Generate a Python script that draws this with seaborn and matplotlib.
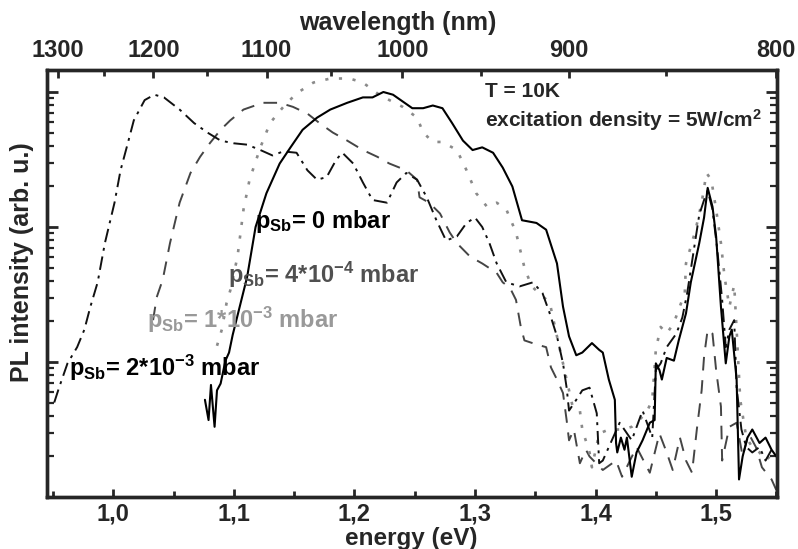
import numpy as np
import pandas as pd
import matplotlib
matplotlib.use("Agg")
import matplotlib.pyplot as plt
import seaborn as sns
from matplotlib.ticker import FixedLocator, NullFormatter, LogLocator

# ---------------- data (energy in eV, log10 of PL intensity in arb. u.) ----------------
e_0 = [1.076, 1.079, 1.081, 1.084, 1.086, 1.089, 1.093, 1.096, 1.099, 1.111, 1.118, 1.127,
       1.138, 1.147, 1.157, 1.169, 1.180, 1.194, 1.207, 1.215, 1.224, 1.232, 1.240, 1.248,
       1.257, 1.265, 1.273, 1.281, 1.290, 1.298, 1.306, 1.315, 1.323, 1.331, 1.339, 1.351,
       1.359, 1.368, 1.373, 1.378, 1.384, 1.389, 1.397, 1.403, 1.406, 1.411, 1.416, 1.417,
       1.418, 1.421, 1.424, 1.426, 1.430, 1.434, 1.439, 1.445, 1.449, 1.450, 1.453, 1.455,
       1.459, 1.465, 1.469, 1.475, 1.479, 1.486, 1.490, 1.493, 1.497, 1.500, 1.504, 1.508,
       1.511, 1.513, 1.517, 1.519, 1.522, 1.526, 1.530, 1.536, 1.541, 1.546, 1.550]
log_0 = [0.72, 0.57, 0.83, 0.52, 0.79, 0.84, 1.01, 1.07, 1.20, 1.63, 2.00, 2.25,
         2.47, 2.59, 2.72, 2.81, 2.87, 2.92, 2.96, 2.96, 3.00, 2.98, 2.93, 2.88,
         2.88, 2.90, 2.88, 2.77, 2.64, 2.57, 2.59, 2.55, 2.44, 2.30, 2.05, 2.03,
         1.98, 1.73, 1.41, 1.19, 1.05, 1.07, 1.14, 1.09, 1.07, 0.87, 0.72, 0.40,
         0.33, 0.44, 0.35, 0.44, 0.15, 0.33, 0.42, 0.55, 0.57, 0.99, 0.94, 0.87,
         1.03, 1.01, 1.16, 1.36, 1.59, 1.88, 2.07, 2.29, 2.15, 1.93, 1.41, 0.99,
         1.19, 1.24, 0.87, 0.13, 0.30, 0.44, 0.50, 0.40, 0.44, 0.35, 0.30]

e_4e4 = [1.033, 1.036, 1.041, 1.047, 1.055, 1.064, 1.072, 1.080, 1.089, 1.097, 1.108, 1.124,
         1.138, 1.149, 1.161, 1.171, 1.182, 1.194, 1.207, 1.219, 1.229, 1.243, 1.252, 1.254,
         1.262, 1.271, 1.279, 1.285, 1.296, 1.306, 1.318, 1.323, 1.329, 1.334, 1.338, 1.341,
         1.351, 1.359, 1.363, 1.368, 1.373, 1.376, 1.378, 1.382, 1.387, 1.392, 1.395, 1.406,
         1.417, 1.422, 1.434, 1.445, 1.453, 1.459, 1.464, 1.470, 1.475, 1.480, 1.484, 1.488,
         1.490, 1.493, 1.497, 1.500, 1.504, 1.505, 1.511, 1.517, 1.522, 1.527, 1.533, 1.538,
         1.546, 1.550]
log_4e4 = [1.31, 1.48, 1.61, 1.88, 2.18, 2.40, 2.52, 2.62, 2.72, 2.79, 2.87, 2.92,
           2.92, 2.89, 2.84, 2.77, 2.70, 2.64, 2.57, 2.52, 2.47, 2.42, 2.35, 2.22,
           2.18, 2.10, 1.96, 1.88, 1.78, 1.73, 1.66, 1.59, 1.55, 1.46, 1.26, 1.16,
           1.13, 1.11, 0.96, 0.87, 0.77, 0.57, 0.42, 0.50, 0.25, 0.35, 0.30, 0.20,
           0.27, 0.15, 0.37, 0.18, 0.47, 0.33, 0.20, 0.44, 0.27, 0.18, 0.50, 0.79,
           1.04, 1.24, 1.21, 0.94, 0.67, 0.27, 0.52, 0.55, 0.30, 0.47, 0.37, 0.22,
           0.13, 0.05]

e_1e3 = [1.086, 1.090, 1.094, 1.097, 1.103, 1.108, 1.113, 1.122, 1.130, 1.141, 1.152, 1.166,
         1.180, 1.196, 1.207, 1.219, 1.229, 1.240, 1.252, 1.257, 1.265, 1.273, 1.285, 1.293,
         1.301, 1.310, 1.318, 1.326, 1.334, 1.341, 1.347, 1.362, 1.368, 1.376, 1.381, 1.387,
         1.389, 1.395, 1.397, 1.403, 1.411, 1.422, 1.430, 1.442, 1.447, 1.450, 1.454, 1.459,
         1.465, 1.469, 1.474, 1.475, 1.483, 1.488, 1.492, 1.496, 1.500, 1.504, 1.507, 1.511,
         1.515, 1.517, 1.520, 1.525, 1.530, 1.536, 1.541, 1.548]
log_1e3 = [1.12, 1.24, 1.44, 1.53, 1.78, 2.13, 2.35, 2.59, 2.77, 2.89, 2.99, 3.07,
           3.10, 3.10, 3.07, 2.99, 2.94, 2.89, 2.81, 2.70, 2.63, 2.63, 2.57, 2.42,
           2.25, 2.15, 2.18, 2.13, 1.96, 1.70, 1.56, 1.44, 1.19, 0.87, 0.67, 0.64,
           0.50, 0.33, 0.22, 0.47, 0.50, 0.50, 0.52, 0.62, 0.72, 1.09, 1.26, 1.21,
           1.29, 1.39, 1.51, 1.73, 1.98, 2.18, 2.40, 2.35, 2.13, 1.88, 1.63, 1.41,
           1.57, 1.24, 0.72, 0.44, 0.37, 0.33, 0.27, 0.33]

e_2e3 = [0.951, 0.955, 0.962, 0.970, 0.976, 0.981, 0.987, 0.993, 1.001, 1.006, 1.012, 1.017,
         1.026, 1.034, 1.042, 1.055, 1.067, 1.078, 1.089, 1.100, 1.111, 1.122, 1.132, 1.141,
         1.152, 1.161, 1.169, 1.177, 1.185, 1.190, 1.199, 1.207, 1.215, 1.227, 1.235, 1.243,
         1.252, 1.260, 1.268, 1.276, 1.285, 1.293, 1.300, 1.306, 1.312, 1.318, 1.326, 1.337,
         1.348, 1.356, 1.362, 1.368, 1.373, 1.376, 1.378, 1.384, 1.389, 1.395, 1.401, 1.403,
         1.406, 1.420, 1.430, 1.439, 1.447, 1.450, 1.454, 1.459, 1.467, 1.472, 1.476, 1.486,
         1.490, 1.493, 1.497, 1.501, 1.505, 1.508, 1.511, 1.515, 1.517, 1.521, 1.525, 1.530,
         1.536, 1.541, 1.546]
log_2e3 = [0.70, 0.81, 0.99, 1.11, 1.24, 1.41, 1.59, 1.88, 2.18, 2.42, 2.62, 2.79,
           2.94, 2.98, 2.96, 2.87, 2.77, 2.70, 2.64, 2.62, 2.61, 2.57, 2.53, 2.56,
           2.55, 2.42, 2.35, 2.37, 2.50, 2.55, 2.47, 2.33, 2.20, 2.18, 2.33, 2.40,
           2.35, 2.22, 2.05, 1.90, 1.93, 2.03, 2.07, 2.00, 1.88, 1.73, 1.59, 1.56,
           1.59, 1.51, 1.36, 1.19, 0.99, 0.81, 0.64, 0.72, 0.79, 0.81, 0.62, 0.25,
           0.27, 0.55, 0.42, 0.64, 0.44, 0.94, 0.99, 1.11, 1.21, 1.33, 1.51, 2.09,
           2.20, 2.27, 2.13, 1.83, 1.46, 1.11, 1.24, 1.31, 0.81, 0.50, 0.37, 0.33,
           0.37, 0.27, 0.35]

energy_ticks = [1.0, 1.1, 1.2, 1.3, 1.4, 1.5]
energy_labels = ["1,0", "1,1", "1,2", "1,3", "1,4", "1,5"]
wl_ticks = [1300, 1200, 1100, 1000, 900, 800]
wl_minor = [1250, 1150, 1050, 950, 850]

# ---------------- style ----------------
sns.set_style("white")
plt.rcParams["font.family"] = ["Liberation Sans", "DejaVu Sans"]
plt.rcParams["font.weight"] = "bold"
plt.rcParams["mathtext.fontset"] = "custom"
plt.rcParams["mathtext.rm"] = "Liberation Sans:bold"
plt.rcParams["mathtext.it"] = "Liberation Sans:bold"
plt.rcParams["mathtext.bf"] = "Liberation Sans:bold"
plt.rcParams["mathtext.default"] = "rm"

W, H = 798, 549
fig = plt.figure(figsize=(W / 100, H / 100), dpi=100)
ax = fig.add_axes([47 / W, 1 - 497 / H, 730 / W, 427 / H])

def frame(e, lg, name):
    return pd.DataFrame({"energy": e, "intensity": np.power(10.0, lg), "series": name})

series = [
    (frame(e_4e4, log_4e4, "4e-4"), "#454545", (0, (7, 5)), 1.4),
    (frame(e_1e3, log_1e3, "1e-3"), "#8a8a8a", (0, (1.2, 4.0)), 1.9),
    (frame(e_2e3, log_2e3, "2e-3"), "#111111", (0, (7, 3, 1.5, 3)), 1.4),
    (frame(e_0, log_0, "0"), "#000000", "-", 1.5),
]
for df, col, ls, lw in series:
    sns.lineplot(data=df, x="energy", y="intensity", ax=ax, color=col, linestyle=ls,
                 linewidth=lw, estimator=None, sort=False, legend=False)

ax.set_yscale("log")
ax.set_xlim(0.945, 1.5505)
ax.set_ylim(1, 10 ** 3.163)

# ticks
ax.set_xticks(energy_ticks)
ax.set_xticklabels(energy_labels)
ax.xaxis.set_minor_locator(FixedLocator([0.95, 1.05, 1.15, 1.25, 1.35, 1.45, 1.55]))
ax.yaxis.set_major_locator(FixedLocator([1, 10, 100, 1000]))
ax.yaxis.set_minor_locator(LogLocator(base=10, subs=np.arange(2, 10)))
ax.yaxis.set_major_formatter(NullFormatter())
ax.yaxis.set_minor_formatter(NullFormatter())
ax.tick_params(axis="x", which="major", direction="in", length=6, width=2, labelsize=17,
               pad=4, top=False)
ax.tick_params(axis="x", which="minor", direction="in", length=4, width=2, top=False)
ax.tick_params(axis="y", which="major", direction="in", length=8, width=2, left=True, right=True)
ax.tick_params(axis="y", which="minor", direction="in", length=5, width=1.6, left=True, right=True)
for sp in ax.spines.values():
    sp.set_linewidth(2.4)
    sp.set_color("black")
ax.set_xlabel("")
ax.set_ylabel("")

# top wavelength axis
ax2 = ax.twiny()
ax2.set_xlim(ax.get_xlim())
ax2.set_xticks([1239.84 / w for w in wl_ticks])
ax2.set_xticklabels([str(w) for w in wl_ticks])
ax2.xaxis.set_minor_locator(FixedLocator([1239.84 / w for w in wl_minor]))
ax2.tick_params(axis="x", which="major", direction="in", length=6, width=2, labelsize=17, pad=6)
ax2.tick_params(axis="x", which="minor", direction="in", length=4, width=2)
for sp in ax2.spines.values():
    sp.set_linewidth(2.4)

# axis titles placed like the reference
fig.text(411 / W, 1 - 539 / H, "energy (eV)", fontsize=17.5, fontweight="bold",
         ha="center", va="center")
fig.text(398 / W, 1 - 23 / H, "wavelength (nm)", fontsize=18, fontweight="bold",
         ha="center", va="center")
fig.text(22 / W, 1 - 262 / H, "PL intensity (arb. u.)", fontsize=18, fontweight="bold",
         ha="center", va="center", rotation=90)

# annotations
fs = 17
ax.text(1.1175, 10 ** 1.99, r"p$_{\rm Sb}$= 0 mbar", fontsize=fs, fontweight="bold",
        color="black", va="baseline", ha="left")
ax.text(1.095, 10 ** 1.585, r"p$_{\rm Sb}$= 4*10$^{-4}$ mbar", fontsize=fs, fontweight="bold",
        color="#505050", va="baseline", ha="left")
ax.text(1.028, 10 ** 1.25, r"p$_{\rm Sb}$= 1*10$^{-3}$ mbar", fontsize=fs, fontweight="bold",
        color="#999999", va="baseline", ha="left")
ax.text(0.963, 10 ** 0.896, r"p$_{\rm Sb}$= 2*10$^{-3}$ mbar", fontsize=fs, fontweight="bold",
        color="black", va="baseline", ha="left")
ax.text(1.308, 10 ** 2.96, "T = 10K", fontsize=15, fontweight="bold", va="baseline", ha="left")
ax.text(1.308, 10 ** 2.74, r"excitation density = 5W/cm$^{2}$", fontsize=15, fontweight="bold",
        va="baseline", ha="left")

fig.savefig("out.png", dpi=100)
